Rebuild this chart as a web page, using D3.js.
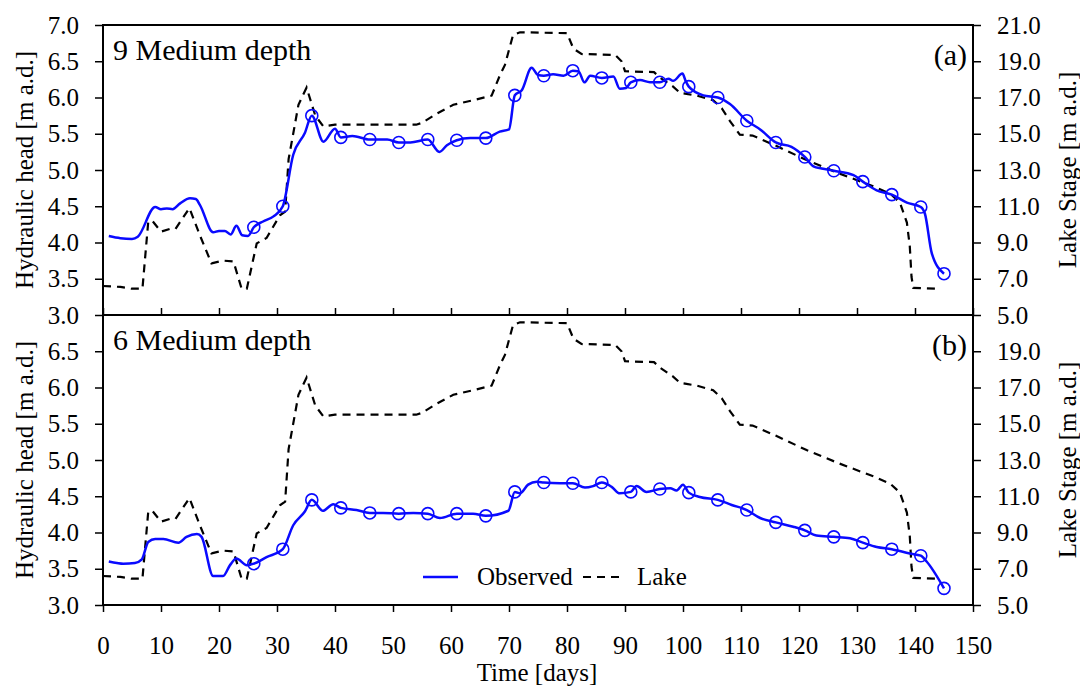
<!DOCTYPE html>
<html>
<head>
<meta charset="utf-8">
<script src="https://cdn.jsdelivr.net/npm/d3@7"></script>
<style>
  body { margin: 0; background: #fff; }
  text { font-family: "Liberation Serif", "Times New Roman", serif; fill: #000; }
</style>
</head>
<body>
<svg id="chart" width="1080" height="688"></svg>
<script>
// observed hydraulic head, piezometer 9 (day, m a.d.)
var obsA = [[1,4.09],[3,4.06],[5,4.05],[6,4.08],[9,4.49],[10,4.46],[11,4.47],[12,4.46],[13.3,4.54],[15,4.61],[16,4.60],[16.7,4.52],
  [19,4.14],[20,4.16],[21,4.16],[22,4.11],[23,4.23],[24,4.10],[25,4.09],[26,4.21],[27.6,4.29],[29.4,4.36],[31,4.50],[32.8,5.21],
  [34.8,5.51],[36,5.75],[38,5.39],[40,5.57],[41,5.45],[43,5.47],[46,5.42],[49,5.42],[51,5.38],[53,5.38],[56,5.42],[58,5.25],
  [59.3,5.34],[61,5.41],[63.3,5.44],[66,5.44],[68.4,5.53],[70,5.56],[71,6.03],[72.2,6.10],[73.9,6.41],[75,6.31],[76,6.30],
  [77.6,6.32],[79.4,6.30],[81,6.37],[82,6.36],[83,6.21],[84,6.30],[86,6.27],[88,6.29],[89.1,6.12],[90.2,6.13],[91,6.21],
  [92.6,6.24],[94.3,6.21],[96,6.21],[97.5,6.26],[98.3,6.23],[99.9,6.33],[100.5,6.22],[101,6.15],[103.5,6.03],[106,6.00],
  [108.1,5.91],[111,5.68],[113.3,5.56],[116,5.38],[118.7,5.32],[121,5.18],[122.5,5.05],[123.9,5.02],[126,4.99],[129.4,4.93],
  [131,4.84],[133.4,4.72],[136,4.66],[138.6,4.55],[141,4.49],[141.7,4.40],[142.9,3.85],[145,3.57]];

// observed hydraulic head, piezometer 6
var obsB = [[1,3.60],[2.4,3.58],[3.5,3.57],[5.5,3.58],[6.7,3.63],[7.8,3.87],[9,3.91],[10.4,3.91],[13,3.86],[14.4,3.94],[16.2,3.98],
  [17,3.94],[19,3.40],[20.7,3.40],[21.9,3.55],[23,3.64],[24.8,3.55],[26,3.57],[28.2,3.66],[31,3.77],[32.8,4.10],[34.8,4.29],
  [36,4.45],[37.9,4.30],[39.7,4.39],[41,4.34],[43.7,4.31],[46,4.27],[48.3,4.27],[51,4.26],[53.5,4.27],[56,4.26],[58.1,4.20],
  [61,4.26],[63.8,4.26],[66,4.23],[69.9,4.30],[71,4.56],[71.9,4.54],[73.3,4.66],[74.8,4.70],[76,4.69],[78.8,4.68],[81,4.68],
  [83.1,4.62],[84.5,4.64],[86,4.69],[87.7,4.63],[89.1,4.54],[91,4.56],[92,4.64],[93.7,4.56],[96,4.60],[97.8,4.61],[98.9,4.58],
  [100,4.66],[101,4.55],[102.9,4.49],[106,4.45],[108.4,4.38],[111,4.31],[113.3,4.20],[116,4.14],[119,4.08],[121,4.03],
  [123,3.96],[126,3.94],[128.8,3.92],[131,3.86],[133.4,3.80],[136,3.77],[139.1,3.71],[141,3.68],[142,3.60],[145,3.23]];

// lake stage (day, m a.d.), same for both panels
var lake = [[0,6.6],[3,6.55],[5,6.45],[6.8,6.45],[7.8,10.15],[8.5,10.2],[10,9.6],[11.5,9.75],[12.5,9.75],[14.9,10.9],[16.7,9.4],
  [18.7,7.85],[20.7,8.0],[22.5,7.95],[23.9,6.45],[24.8,6.45],[26.5,8.95],[28.2,9.25],[30.5,10.5],[31.4,10.7],[32,13.6],
  [33.7,16.6],[35.1,17.55],[36.6,16.0],[38,15.4],[40,15.5],[54,15.5],[55,15.6],[57.5,16.1],[60.4,16.6],[63.8,16.85],[67,17.1],
  [68.4,18.2],[69.3,18.8],[70.7,20.45],[71.9,20.6],[80,20.55],[81.1,19.7],[82.5,19.4],[88.3,19.35],[89.4,19.0],[90,18.45],
  [95,18.4],[96,18.1],[98.3,17.6],[99.5,17.25],[100.6,17.2],[102.4,17.1],[105.2,16.85],[106.7,16.4],[108.1,15.7],[109.8,14.95],
  [112,14.9],[115.6,14.4],[121.3,13.55],[127,12.8],[132.8,12.1],[135.7,11.7],[137.4,11.2],[138.6,10.1],[139.1,8.8],[139.4,7.1],
  [139.7,6.5],[143.7,6.45]];

var markerDays = [26,31,36,41,46,51,56,61,66,71,76,81,86,91,96,101,106,111,116,121,126,131,136,141,145];

var xTicks = [0,10,20,30,40,50,60,70,80,90,100,110,120,130,140,150];
var headTicksA = [3.0,3.5,4.0,4.5,5.0,5.5,6.0,6.5,7.0];
var headTicksB = [3.0,3.5,4.0,4.5,5.0,5.5,6.0,6.5];
var stageTicksA = [5,7,9,11,13,15,17,19,21];
var stageTicksB = [5,7,9,11,13,15,17,19];
var panelNames = ["9 Medium depth", "6 Medium depth"];
var panelTags = ["(a)", "(b)"];

var svg = d3.select("#chart");
var left = 103, right = 973;
var panelH = 290, top0 = 25;
var blue = "#0a0aff";
var fmt = d3.format(".1f");

var x = d3.scaleLinear().domain([0, 150]).range([left, right]);

function Panel(i, obs, headTicks, stageTicks) {
    var y0 = top0 + i * panelH, y1 = y0 + panelH;
    var yL = d3.scaleLinear().domain([3, 7]).range([y1, y0]);
    var yR = d3.scaleLinear().domain([5, 21]).range([y1, y0]);
    var g = svg.append("g");

    // lake stage
    var lakeLine = d3.line().x(function (d) { return x(d[0]); }).y(function (d) { return yR(d[1]); });
    g.append("path").datum(lake)
        .attr("d", lakeLine)
        .attr("fill", "none").attr("stroke", "#000")
        .attr("stroke-width", 2.2).attr("stroke-dasharray", "8,6");

    // observed head
    var obsLine = d3.line().curve(d3.curveMonotoneX)
        .x(function (d) { return x(d[0]); }).y(function (d) { return yL(d[1]); });
    g.append("path").datum(obs)
        .attr("d", obsLine)
        .attr("fill", "none").attr("stroke", blue).attr("stroke-width", 2.5);

    var pts = obs.filter(function (d) { return markerDays.indexOf(d[0]) >= 0; });
    g.selectAll("circle.m").data(pts).enter().append("circle")
        .attr("class", "m")
        .attr("cx", function (d) { return x(d[0]); })
        .attr("cy", function (d) { return yL(d[1]); })
        .attr("r", 6)
        .attr("fill", "none").attr("stroke", blue).attr("stroke-width", 1.6);

    // frame
    g.append("rect").attr("x", left).attr("y", y0).attr("width", right - left).attr("height", panelH)
        .attr("fill", "none").attr("stroke", "#000").attr("stroke-width", 2);

    // left axis
    var gl = g.append("g").attr("transform", "translate(" + left + ",0)");
    gl.call(d3.axisLeft(yL).tickValues(d3.range(3, 7.01, 0.25)).tickSize(4).tickFormat(""));
    gl.call(d3.axisLeft(yL).tickValues(headTicks).tickSize(8).tickPadding(16).tickFormat(fmt));

    // right axis
    var gr = g.append("g").attr("transform", "translate(" + right + ",0)");
    gr.call(d3.axisRight(yR).tickValues(d3.range(5, 21.01, 1)).tickSize(4).tickFormat(""));
    gr.call(d3.axisRight(yR).tickValues(stageTicks).tickSize(8).tickPadding(16).tickFormat(fmt));

    // x ticks: inward for top panel, outward for bottom
    var gx = g.append("g").attr("transform", "translate(0," + y1 + ")");
    var ax = i === 0 ? d3.axisTop : d3.axisBottom;
    gx.call(ax(x).tickValues(d3.range(0, 150.01, 1)).tickSize(4).tickFormat(""));
    gx.call(ax(x).tickValues(xTicks).tickSize(7).tickPadding(24).tickFormat(i === 0 ? "" : d3.format("d")));

    g.selectAll(".domain").remove();
    g.selectAll(".tick line").attr("stroke", "#000").attr("stroke-width", 1.5);
    g.selectAll(".tick text").attr("font-size", 25);

    g.append("text").attr("x", 113).attr("y", y0 + 35).attr("font-size", 30).text(panelNames[i]);
    g.append("text").attr("x", 967).attr("y", y0 + 40).attr("font-size", 30)
        .attr("text-anchor", "end").text(panelTags[i]);

    g.append("text").attr("transform", "translate(33," + (y0 + panelH / 2) + ") rotate(-90)")
        .attr("text-anchor", "middle").attr("font-size", 25).text("Hydraulic head [m a.d.]");
    g.append("text").attr("transform", "translate(1076," + (y0 + panelH / 2) + ") rotate(-90)")
        .attr("text-anchor", "middle").attr("font-size", 25).text("Lake Stage [m a.d.]");
}

Panel(0, obsA, headTicksA, stageTicksA);
Panel(1, obsB, headTicksB, stageTicksB);

// x title
svg.append("text").attr("x", 537).attr("y", 681).attr("text-anchor", "middle")
    .attr("font-size", 25).text("Time [days]");

// legend
var lg = svg.append("g");
lg.append("line").attr("x1", 423).attr("x2", 458).attr("y1", 577).attr("y2", 577)
    .attr("stroke", blue).attr("stroke-width", 2.5);
lg.append("text").attr("x", 477).attr("y", 585).attr("font-size", 25).text("Observed");
lg.append("line").attr("x1", 583).attr("x2", 619).attr("y1", 577).attr("y2", 577)
    .attr("stroke", "#000").attr("stroke-width", 2.2).attr("stroke-dasharray", "8,6");
lg.append("text").attr("x", 637).attr("y", 585).attr("font-size", 25).text("Lake");
</script>
</body>
</html>
